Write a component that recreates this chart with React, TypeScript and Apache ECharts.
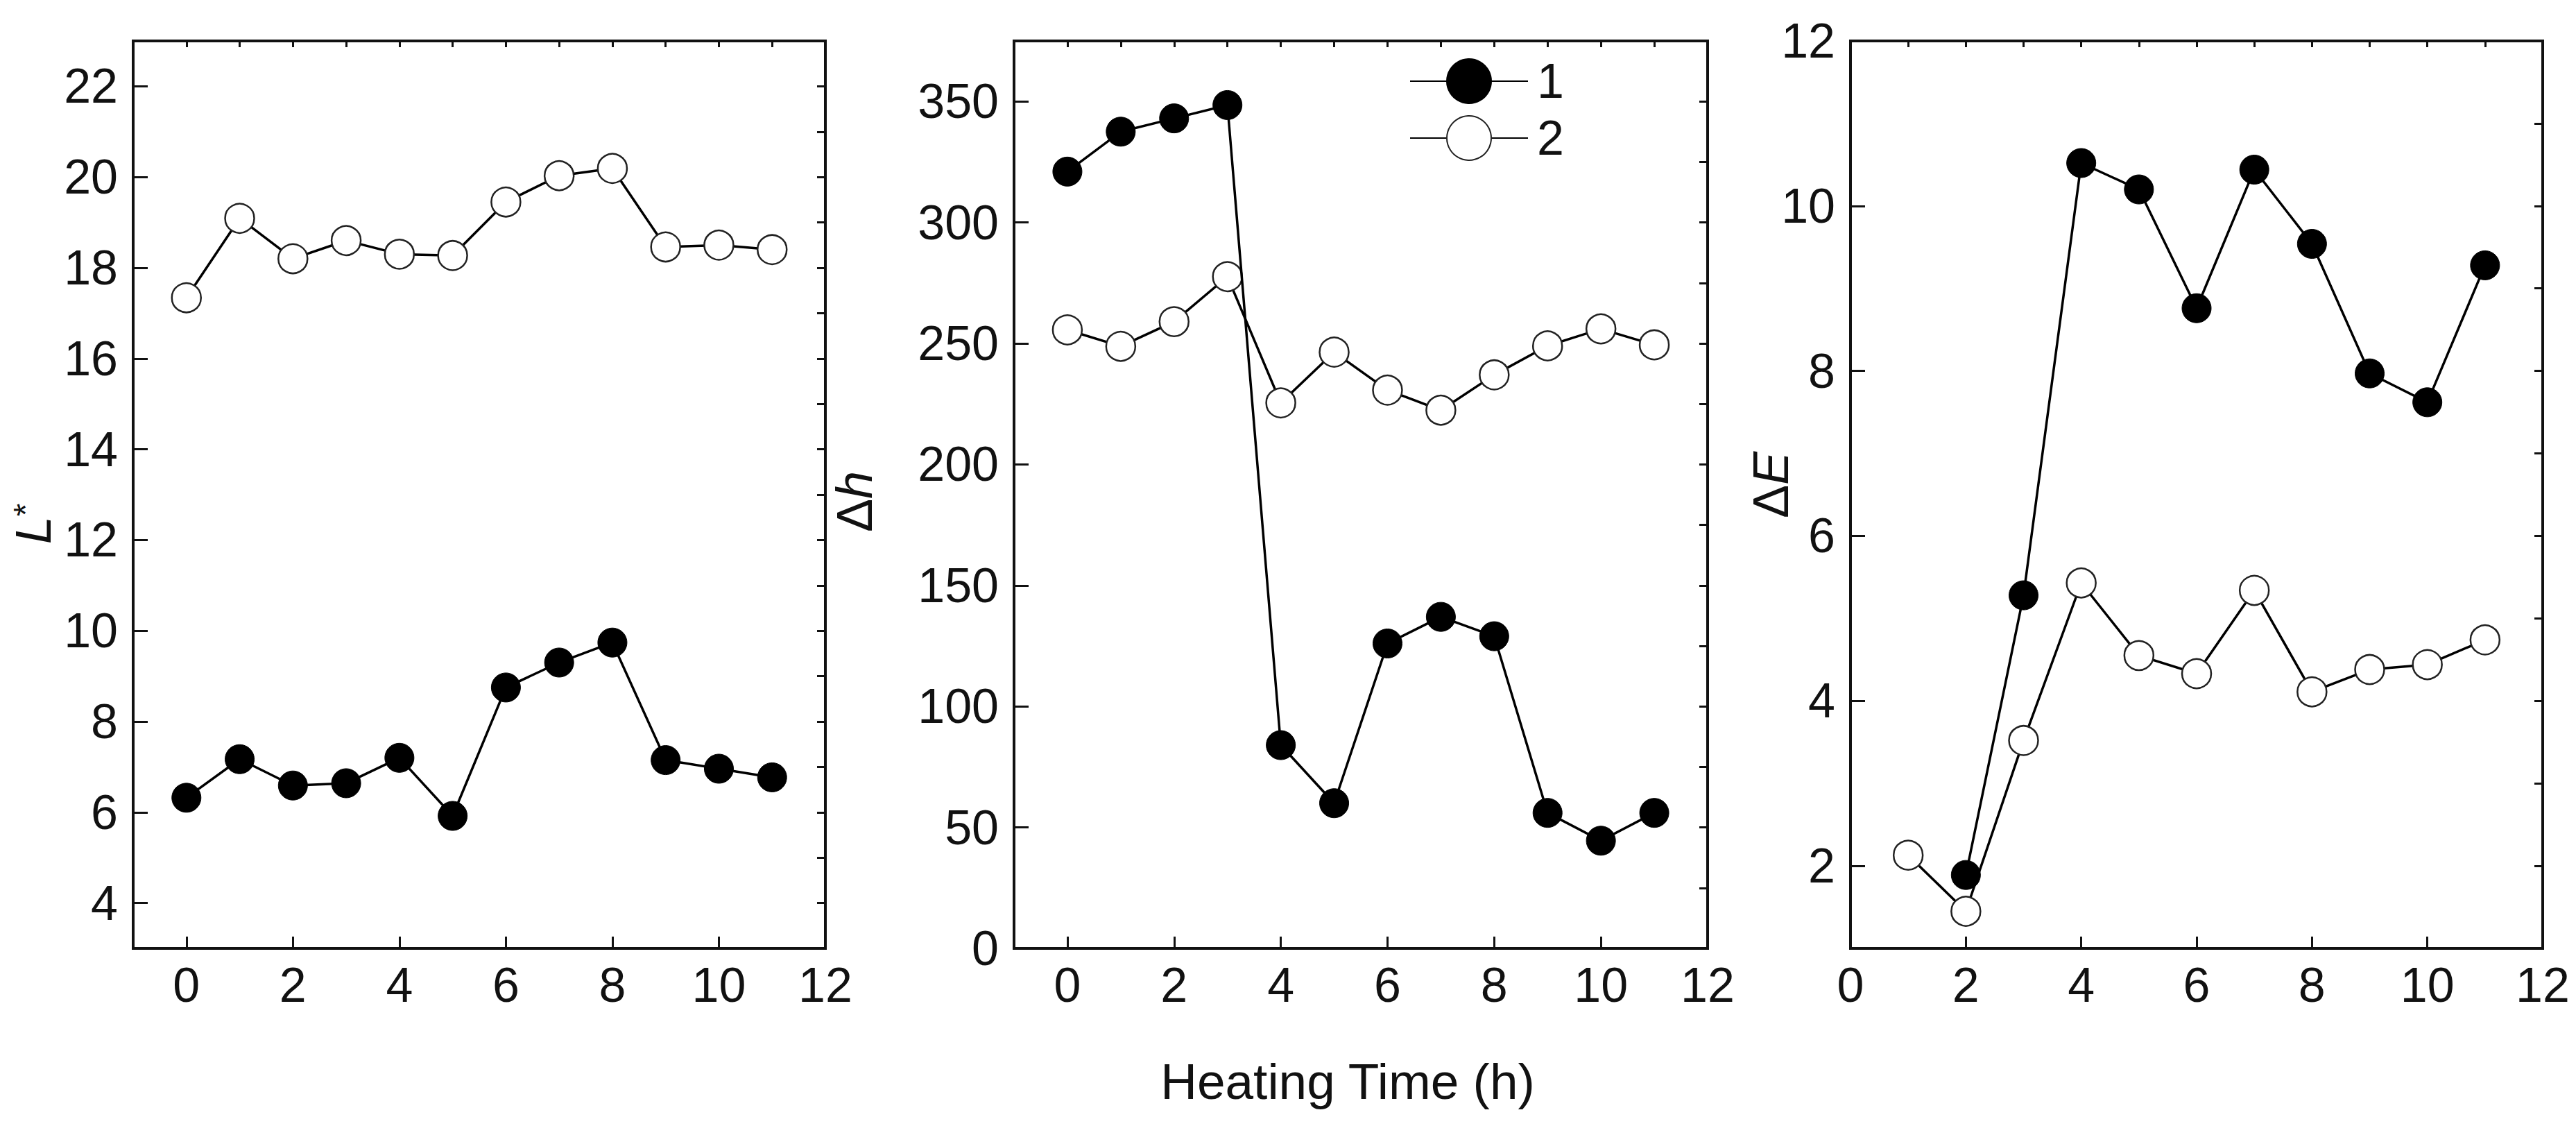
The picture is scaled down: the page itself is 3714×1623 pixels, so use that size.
import React, { useEffect, useRef } from 'react';
import * as echarts from 'echarts';

// heating time (h)
const hours = [0, 1, 2, 3, 4, 5, 6, 7, 8, 9, 10, 11];
const hoursDE1 = [2, 3, 4, 5, 6, 7, 8, 9, 10, 11];
const hoursDE2 = [1, 2, 3, 4, 5, 6, 7, 8, 9, 10, 11];

// L*
const lStar1 = [6.32, 7.17, 6.59, 6.64, 7.2, 5.92, 8.75, 9.3, 9.74, 7.15, 6.96, 6.77];
const lStar2 = [17.34, 19.09, 18.2, 18.6, 18.3, 18.27, 19.45, 20.03, 20.19, 18.46, 18.5, 18.4];

// Δh
const dh1 = [321, 337.5, 343, 348.5, 84, 60, 126, 137, 129, 56, 44.5, 56];
const dh2 = [255.6, 248.8, 259, 277.6, 225.4, 246.4, 230.7, 222.4, 237, 249, 256, 249.4];

// ΔE
const de1 = [1.89, 5.28, 10.52, 10.2, 8.76, 10.44, 9.54, 7.97, 7.62, 9.28];
const de2 = [2.13, 1.45, 3.52, 5.43, 4.55, 4.33, 5.34, 4.11, 4.38, 4.44, 4.74];

// tick labels
const xTicks = [0, 2, 4, 6, 8, 10, 12];
const lTicks = [4, 6, 8, 10, 12, 14, 16, 18, 20, 22];
const dhTicks = [0, 50, 100, 150, 200, 250, 300, 350];
const deTicks = [2, 4, 6, 8, 10, 12];

const seriesNames = ['1', '2'];

const FONT = 'Liberation Sans';
const INK = '#111';

const grids = [
  { left: 192, top: 59, width: 998, height: 1308 },
  { left: 1462, top: 59, width: 1000, height: 1308 },
  { left: 2668, top: 59, width: 998, height: 1308 },
];

const xRanges = [[-1, 12], [-1, 12], [0, 12]];
const yRanges = [[3, 23], [0, 375], [1, 12]];
const yTickSets = [lTicks, dhTicks, deTicks];
const yMinorStep = [1, 25, 1];

const pair = (xs: number[], ys: number[]) => xs.map((x, i) => [x, ys[i]]);

const mainAxis = (gridIndex: number, min: number, max: number, ticks: number[], len: number) => ({
  type: 'value',
  gridIndex,
  min,
  max,
  splitLine: { show: false },
  axisLine: { show: true, onZero: false, lineStyle: { color: INK, width: 4 } },
  axisTick: { show: true, inside: true, length: len, customValues: ticks, lineStyle: { color: INK, width: 3 } },
  axisLabel: { show: true, customValues: ticks, fontSize: 70, color: INK, fontFamily: FONT, margin: 18 },
});

const minorAxis = (gridIndex: number, min: number, max: number, step: number, len: number) => ({
  type: 'value',
  gridIndex,
  min,
  max,
  interval: step,
  splitLine: { show: false },
  axisLine: { show: false, onZero: false },
  axisTick: { show: true, inside: true, length: len, lineStyle: { color: INK, width: 3 } },
  axisLabel: { show: false },
});

const lineSeries = (name: string, idx: number, data: number[][], filled: boolean) => ({
  name,
  type: 'line',
  xAxisIndex: idx * 2,
  yAxisIndex: idx * 2,
  data,
  symbol: 'circle',
  symbolSize: 42,
  z: filled ? 3 : 2,
  lineStyle: { color: '#000', width: 3.5 },
  itemStyle: filled
    ? { color: '#000', borderColor: '#000', borderWidth: 1 }
    : { color: '#fff', borderColor: '#222', borderWidth: 2.5 },
  emphasis: { disabled: true },
});

const App: React.FC = () => {
  const chartRef = useRef<HTMLDivElement>(null);

  useEffect(() => {
    if (!chartRef.current) return;
    const chart = echarts.init(chartRef.current, null, { renderer: 'svg' });

    const xAxis: any[] = [];
    const yAxis: any[] = [];
    grids.forEach((_, i) => {
      xAxis.push(mainAxis(i, xRanges[i][0], xRanges[i][1], xTicks, 17));
      xAxis.push(minorAxis(i, xRanges[i][0], xRanges[i][1], 1, 9));
      yAxis.push(mainAxis(i, yRanges[i][0], yRanges[i][1], yTickSets[i], 21));
      yAxis.push(minorAxis(i, yRanges[i][0], yRanges[i][1], yMinorStep[i], 12));
    });
    yAxis.forEach((a) => { a.axisLabel.margin = 22; });

    const nameStyle = { fill: INK, fontFamily: FONT, fontSize: 72, align: 'center', verticalAlign: 'middle' };

    chart.setOption({
      animation: false,
      backgroundColor: '#fff',
      textStyle: { fontFamily: FONT },
      grid: grids.map((g) => ({
        ...g,
        show: true,
        borderColor: INK,
        borderWidth: 4,
        backgroundColor: 'transparent',
        containLabel: false,
        outerBoundsMode: 'none',
      })),
      xAxis,
      yAxis,
      legend: {
        data: seriesNames,
        orient: 'vertical',
        left: 2027,
        top: 77,
        itemWidth: 170,
        itemHeight: 80,
        itemGap: 12,
        selectedMode: false,
        textStyle: { fontSize: 70, color: INK, fontFamily: FONT, padding: [0, 0, 0, 8] },
      },
      series: [
        lineSeries(seriesNames[0], 0, pair(hours, lStar1), true),
        lineSeries(seriesNames[1], 0, pair(hours, lStar2), false),
        lineSeries(seriesNames[0], 1, pair(hours, dh1), true),
        lineSeries(seriesNames[1], 1, pair(hours, dh2), false),
        lineSeries(seriesNames[0], 2, pair(hoursDE1, de1), true),
        lineSeries(seriesNames[1], 2, pair(hoursDE2, de2), false),
      ],
      graphic: [
        {
          type: 'text',
          x: 48,
          y: 755,
          rotation: Math.PI / 2,
          style: {
            ...nameStyle,
            text: '{i|L}{s|*}',
            rich: {
              i: { fontStyle: 'italic', fontSize: 72, fontFamily: FONT, fill: INK },
              s: { fontSize: 48, fontFamily: FONT, fill: INK, verticalAlign: 'top' },
            },
          },
        },
        {
          type: 'text',
          x: 1232,
          y: 723,
          rotation: Math.PI / 2,
          style: {
            ...nameStyle,
            text: '{u|Δ}{i|h}',
            rich: {
              u: { fontSize: 72, fontFamily: FONT, fill: INK },
              i: { fontStyle: 'italic', fontSize: 72, fontFamily: FONT, fill: INK },
            },
          },
        },
        {
          type: 'text',
          x: 2553,
          y: 699,
          rotation: Math.PI / 2,
          style: {
            ...nameStyle,
            text: '{u|Δ}{i|E}',
            rich: {
              u: { fontSize: 72, fontFamily: FONT, fill: INK },
              i: { fontStyle: 'italic', fontSize: 72, fontFamily: FONT, fill: INK },
            },
          },
        },
        {
          type: 'text',
          x: 1943,
          y: 1558,
          style: { ...nameStyle, text: 'Heating Time (h)', fontSize: 73 },
        },
      ],
    });

    const onResize = () => chart.resize();
    window.addEventListener('resize', onResize);
    return () => {
      window.removeEventListener('resize', onResize);
      chart.dispose();
    };
  }, []);

  return (
    <div
      ref={chartRef}
      style={{ position: 'fixed', left: 0, top: 0, width: '100vw', height: '100vh', background: '#fff' }}
    />
  );
};

export default App;
